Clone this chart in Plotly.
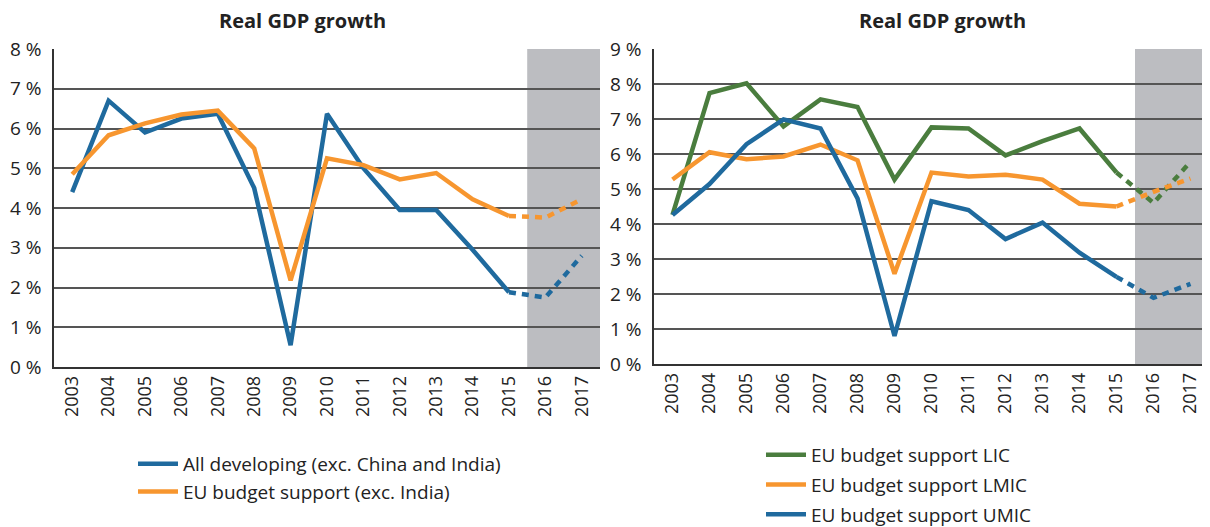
import plotly.graph_objects as go

years = ["2003", "2004", "2005", "2006", "2007", "2008", "2009", "2010",
         "2011", "2012", "2013", "2014", "2015", "2016", "2017"]

# Left chart
all_developing = [4.4, 6.7, 5.9, 6.25, 6.37, 4.5, 0.55, 6.37, 5.0, 3.95, 3.95, 2.95, 1.88, 1.75, 2.8]
eu_bs_exc_india = [4.85, 5.83, 6.13, 6.35, 6.45, 5.5, 2.18, 5.25, 5.08, 4.72, 4.88, 4.22, 3.8, 3.76, 4.22]

# Right chart
eu_lic = [4.26, 7.74, 8.02, 6.79, 7.56, 7.34, 5.27, 6.76, 6.73, 5.96, 6.37, 6.73, 5.47, 4.6, 5.78]
eu_lmic = [5.27, 6.05, 5.85, 5.93, 6.27, 5.82, 2.58, 5.47, 5.36, 5.41, 5.27, 4.58, 4.5, 4.92, 5.3]
eu_umic = [4.26, 5.14, 6.28, 6.99, 6.73, 4.73, 0.8, 4.65, 4.4, 3.57, 4.04, 3.18, 2.49, 1.89, 2.29]

left_ticks = [0, 1, 2, 3, 4, 5, 6, 7, 8]
right_ticks = [0, 1, 2, 3, 4, 5, 6, 7, 8, 9]

BLUE = "#1F6A9E"
ORANGE = "#F7962F"
GREEN = "#4A7D3E"
BAND = "#BCBDC1"
TXT = "#222222"
FONT = "Open Sans"

split = years.index("2015")

fig = go.Figure()


def add_series(name, vals, color, xa, ya, legend, group):
    fig.add_trace(go.Scatter(
        x=years[:split + 1], y=vals[:split + 1], mode="lines", name=name,
        line=dict(color=color, width=4.5), xaxis=xa, yaxis=ya,
        legend=legend, legendgroup=group, hoverinfo="x+y"))
    fig.add_trace(go.Scatter(
        x=years[split:], y=vals[split:], mode="lines", name=name,
        line=dict(color=color, width=4.5, dash="7px,6px"), xaxis=xa, yaxis=ya,
        legend=legend, legendgroup=group, showlegend=False, hoverinfo="x+y"))


add_series("All developing (exc. China and India)", all_developing, BLUE, "x", "y", "legend", "a")
add_series("EU budget support (exc. India)", eu_bs_exc_india, ORANGE, "x", "y", "legend", "b")
add_series("EU budget support LIC", eu_lic, GREEN, "x2", "y2", "legend2", "c")
add_series("EU budget support LMIC", eu_lmic, ORANGE, "x2", "y2", "legend2", "d")
add_series("EU budget support UMIC", eu_umic, BLUE, "x2", "y2", "legend2", "e")

H = 527.0
W = 1210.0
OFF = 8  # page body margin offset

xcommon = dict(type="category", range=[-0.5, 14.5], showgrid=False, showline=True,
               linecolor="#333333", linewidth=1.5, ticks="", tickangle=-90,
               tickfont=dict(family=FONT, size=18, color=TXT), fixedrange=True,
               automargin=False)
ycommon = dict(showgrid=True, gridcolor="#555555", gridwidth=1.5, showline=True,
               linecolor="#333333", linewidth=1.5, ticks="",
               tickfont=dict(family=FONT, size=19, color=TXT), zeroline=False,
               ticklabelstandoff=7, fixedrange=True, automargin=False)


def px_x(v):
    return (v - OFF) / W


def px_y(v):
    return 1 - (v - OFF) / H


fig.update_layout(
    width=1210, height=527,
    margin=dict(l=0, r=0, t=0, b=0, pad=0, autoexpand=False),
    paper_bgcolor="white", plot_bgcolor="white",
    font=dict(family=FONT, color=TXT),
    xaxis=dict(domain=[px_x(54), px_x(600)], anchor="y", **xcommon),
    yaxis=dict(domain=[px_y(367), px_y(49)], anchor="x", range=[0, 8],
               tickvals=left_ticks, ticktext=[f"{v} %" for v in left_ticks], **ycommon),
    xaxis2=dict(domain=[px_x(654), px_x(1209)], anchor="y2", **xcommon),
    yaxis2=dict(domain=[px_y(364), px_y(49)], anchor="x2", range=[0, 9],
                tickvals=right_ticks, ticktext=[f"{v} %" for v in right_ticks], **ycommon),
    legend=dict(x=px_x(133), y=px_y(445), xanchor="left", yanchor="top",
                font=dict(family=FONT, size=19, color=TXT),
                bgcolor="rgba(0,0,0,0)", tracegroupgap=0, itemwidth=40),
    legend2=dict(x=px_x(761), y=px_y(436), xanchor="left", yanchor="top",
                 font=dict(family=FONT, size=19, color=TXT),
                 bgcolor="rgba(0,0,0,0)", tracegroupgap=2, itemwidth=40),
    shapes=[
        dict(type="rect", xref="x", yref="y domain", x0=12.5, x1=14.5, y0=0, y1=1,
             fillcolor=BAND, line=dict(width=0), layer="below"),
        dict(type="rect", xref="x2", yref="y2 domain", x0=12.5, x1=14.5, y0=0, y1=1,
             fillcolor=BAND, line=dict(width=0), layer="below"),
    ],
    annotations=[
        dict(text="<b>Real GDP growth</b>", xref="paper", yref="paper",
             x=px_x(302), y=px_y(20), xanchor="center", yanchor="middle",
             showarrow=False, font=dict(family=FONT, size=20, color=TXT)),
        dict(text="<b>Real GDP growth</b>", xref="paper", yref="paper",
             x=px_x(942), y=px_y(20), xanchor="center", yanchor="middle",
             showarrow=False, font=dict(family=FONT, size=20, color=TXT)),
    ],
)

fig.write_html("out.html")
